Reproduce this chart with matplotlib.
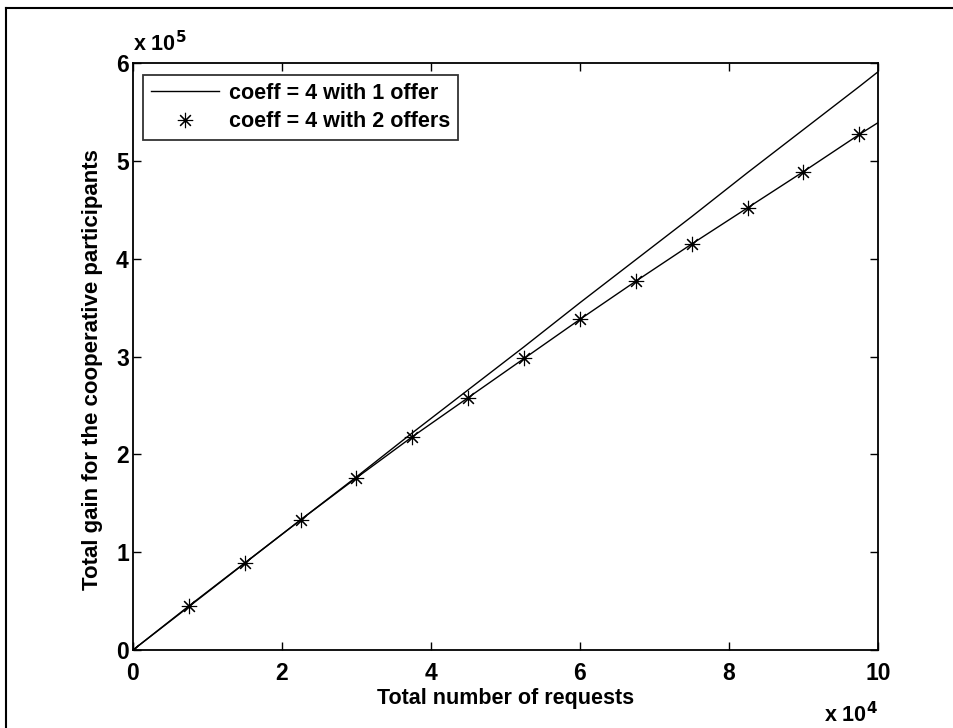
import matplotlib.pyplot as plt
from matplotlib.lines import Line2D

plt.rcParams['font.family'] = ['Liberation Sans', 'DejaVu Sans']
plt.rcParams['font.weight'] = 'bold'

# requests (x 1e4) and total gain (x 1e5)
requests = [0, 0.75, 1.5, 2.25, 3.0, 3.75, 4.5, 5.25, 6.0, 6.75, 7.5, 8.25, 9.0, 9.75, 10.0]
gain_1offer = [0, 0.443, 0.887, 1.33, 1.77, 2.22, 2.66, 3.10, 3.55, 3.99, 4.43, 4.88, 5.32, 5.76, 5.91]
gain_2offers = [0, 0.45, 0.89, 1.33, 1.76, 2.18, 2.58, 2.98, 3.38, 3.77, 4.15, 4.52, 4.89, 5.27, 5.39]

fs = 15.5

fig = plt.figure(figsize=(9.54, 7.28), dpi=100)
ax = fig.add_axes([133/954, 1 - 650/728, 745/954, 587/728])

ax.plot(requests, gain_1offer, color='black', lw=1.0, label='coeff = 4 with 1 offer')
ax.plot(requests, gain_2offers, color='black', lw=1.0)
ax.plot(requests[:-1], gain_2offers[:-1], ls='none', marker=(8, 2, 0), ms=11,
        mec='black', mew=0.8, label='coeff = 4 with 2 offers')

ax.set_xlim(0, 10)
ax.set_ylim(0, 6)
ax.set_xticks(range(0, 11, 2))
ax.set_yticks(range(0, 7))
ax.tick_params(direction='in', length=6, width=1, labelsize=16.5, top=True, right=True)
ax.tick_params(axis='x', pad=9)
ax.tick_params(axis='y', pad=3)
for s in ax.spines.values():
    s.set_linewidth(1.3)

ax.set_xlabel('Total number of requests', fontsize=fs, fontweight='bold', labelpad=2)
ax.set_ylabel('Total gain for the cooperative participants', fontsize=16, fontweight='bold')
ax.yaxis.set_label_coords(-0.04, 0.477)

ax.text(0.0, 1.012, r'x 10$^{\mathbf{5}}$', transform=ax.transAxes, fontsize=fs, ha='left', va='bottom')
ax.text(1.0, -0.088, r'x 10$^{\mathbf{4}}$', transform=ax.transAxes, fontsize=fs, ha='right', va='top')

leg = ax.legend(loc='upper left', fontsize=fs, frameon=True, fancybox=False, edgecolor='black',
                handlelength=3.2, borderpad=0.35, labelspacing=0.35, handletextpad=0.45,
                borderaxespad=0, bbox_to_anchor=(10/745, 1 - 12/587))
leg.get_frame().set_linewidth(1.3)

# outer frame of the figure window
fig.add_artist(Line2D([6/954, 1], [1 - 8/728, 1 - 8/728], color='black', lw=1.5))
fig.add_artist(Line2D([6/954, 6/954], [0, 1 - 8/728], color='black', lw=1.5))

fig.savefig('out.png', dpi=100)
